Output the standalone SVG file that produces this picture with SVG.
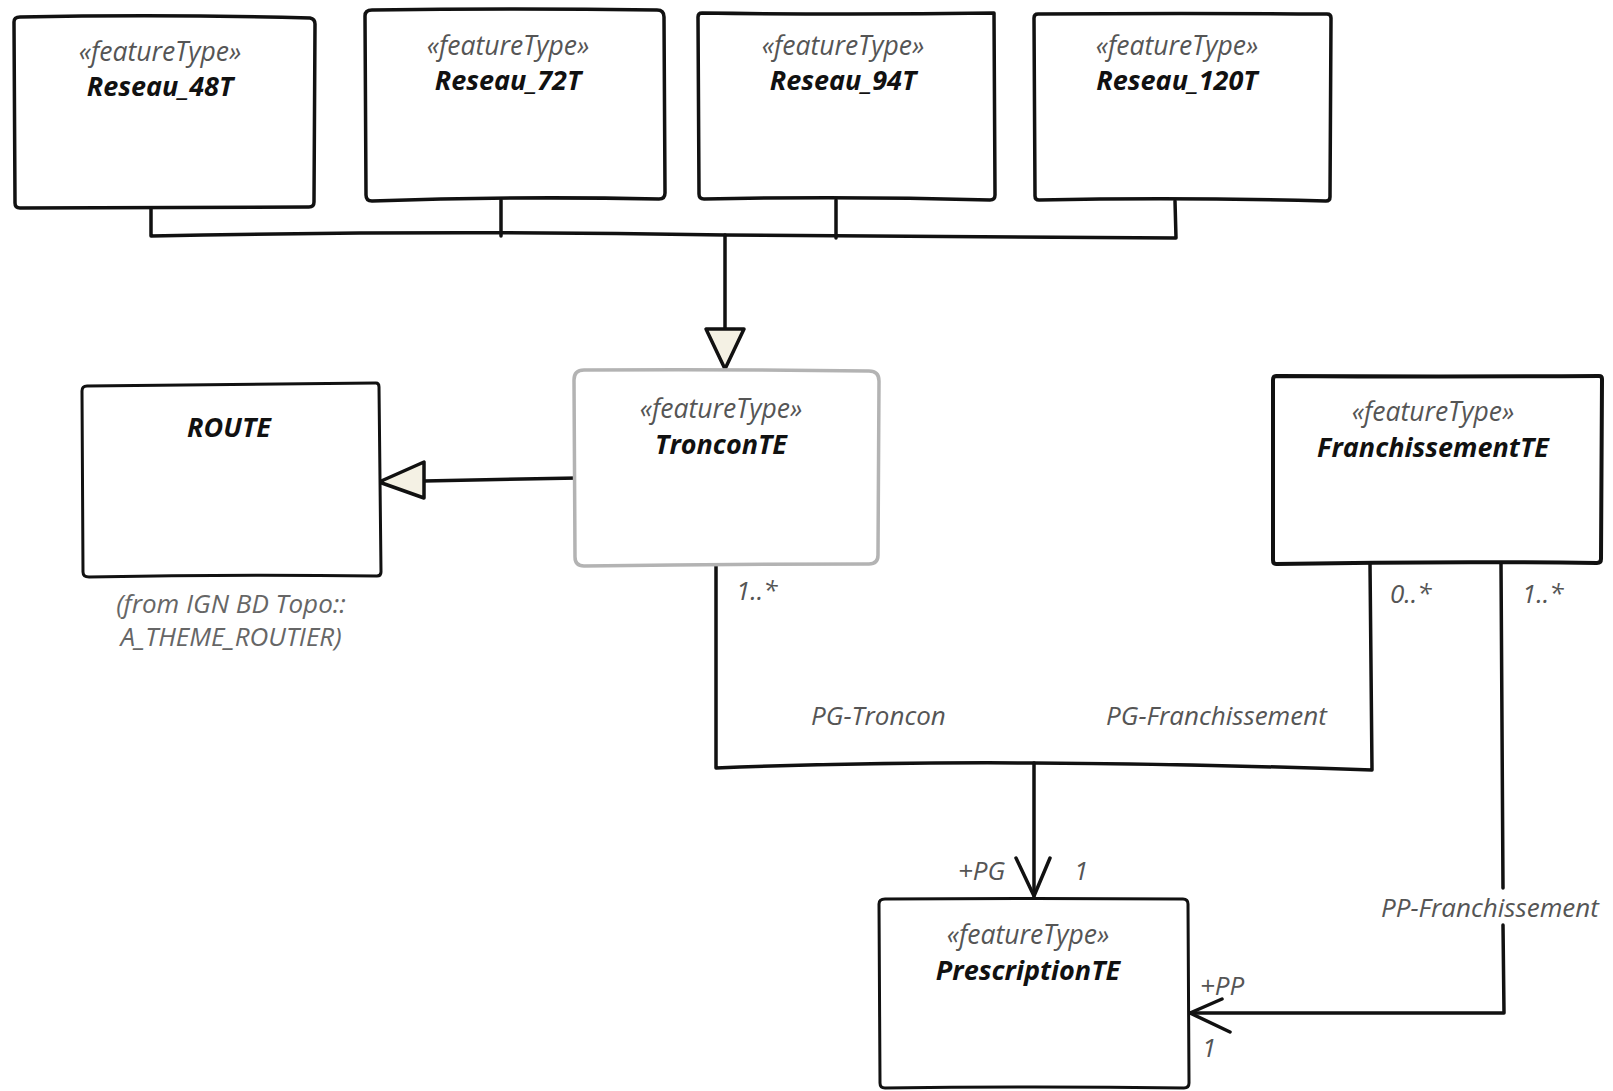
<svg xmlns="http://www.w3.org/2000/svg" width="1613" height="1091" viewBox="0 0 1613 1091">
<style>
.box{fill:#ffffff;stroke:#111;stroke-width:3.5;stroke-linejoin:round;stroke-linecap:round}
.boxg{fill:#ffffff;stroke:#b3b3b3;stroke-width:3.5;stroke-linejoin:round}
.ln{fill:none;stroke:#111;stroke-width:3.5;stroke-linejoin:round;stroke-linecap:round}
.tri{fill:#f4f1e4;stroke:#111;stroke-width:3.5;stroke-linejoin:round}
.st{font-family:'Open Sans','Noto Sans',sans-serif;font-style:italic;font-size:26.5px;fill:#555;text-anchor:middle}
.nm{font-family:'Open Sans','Noto Sans',sans-serif;font-style:italic;font-weight:bold;font-size:27px;fill:#111;text-anchor:middle}
.lb{font-family:'Open Sans','Noto Sans',sans-serif;font-style:italic;font-size:26px;fill:#555}
.nt{font-family:'Open Sans','Noto Sans',sans-serif;font-style:italic;font-size:26px;fill:#666;text-anchor:middle}
</style>
<rect width="1613" height="1091" fill="#ffffff"/>
<g id="connectors">
  <path class="ln" d="M151,208 L151,236 Q440,230 725,235 Q950,236 1176,238 L1175,201"/>
  <path class="ln" d="M501,200 L501,236"/>
  <path class="ln" d="M836,200 L836,238"/>
  <path class="ln" d="M725,235 L725,329"/>
  <path class="tri" d="M706,329 L744,329 L725,369 Z"/>
  <path class="ln" d="M578,478 L424,481"/>
  <path class="tri" d="M424,462 L424,498 L379,482 Z"/>
  <path class="ln" d="M716,566 L716,768 Q870,762 1034,763 Q1200,764 1372,770 L1370,563"/>
  <path class="ln" d="M1034,763 L1034,896"/>
  <path class="ln" d="M1016,858 L1034,896 L1050,858"/>
  <path class="ln" d="M1501,563 L1503,888"/>
  <path class="ln" d="M1503,925 L1504,1013 L1190,1013"/>
  <path class="ln" d="M1222,999 L1190,1013 L1230,1032"/>
  <text class="lb" x="736" y="600">1..*</text>
  <text class="lb" x="1390" y="603">0..*</text>
  <text class="lb" x="1522" y="603">1..*</text>
  <text class="lb" x="811" y="725">PG-Troncon</text>
  <text class="lb" x="1106" y="725">PG-Franchissement</text>
  <text class="lb" x="958" y="880">+PG</text>
  <text class="lb" x="1074" y="880">1</text>
  <text class="lb" x="1381" y="917">PP-Franchissement</text>
  <text class="lb" x="1200" y="995">+PP</text>
  <text class="lb" x="1202" y="1057">1</text>
</g>
<g id="Reseau_48T">
  <path class="box" d="M20,17 Q165,14 310,18 Q315,19 315,24 L314,202 Q314,207 309,207 L20,208 Q15,208 15,203 L14,22 Q14,17 20,17 Z"/>
  <text class="st" x="160" y="61">«featureType»</text>
  <text class="nm" x="160" y="96">Reseau_48T</text>
</g>
<g id="Reseau_72T">
  <path class="box" d="M372,10 Q515,8 657,10 Q664,10 664,17 L665,193 Q665,199 659,199 Q515,196 372,201 Q366,201 366,195 L365,16 Q365,10 372,10 Z"/>
  <text class="st" x="508" y="55">«featureType»</text>
  <text class="nm" x="508" y="90">Reseau_72T</text>
</g>
<g id="Reseau_94T">
  <path class="box" d="M702,13 Q850,15 994,13 L995,195 Q995,200 990,200 Q850,196 704,199 Q699,199 699,194 L698,17 Q698,13 702,13 Z"/>
  <text class="st" x="843" y="55">«featureType»</text>
  <text class="nm" x="843" y="90">Reseau_94T</text>
</g>
<g id="Reseau_120T">
  <path class="box" d="M1038,14 Q1180,13 1327,14 Q1331,14 1331,18 L1330,197 Q1330,201 1326,201 Q1180,197 1039,200 Q1035,200 1035,196 L1034,18 Q1034,14 1038,14 Z"/>
  <text class="st" x="1177" y="55">«featureType»</text>
  <text class="nm" x="1177" y="90">Reseau_120T</text>
</g>
<g id="TronconTE">
  <path class="boxg" d="M584,370 Q725,369 869,371 Q879,371 879,381 L878,555 Q878,564 869,564 Q725,564 584,566 Q575,566 575,557 L574,380 Q574,370 584,370 Z"/>
  <text class="st" x="721" y="418">«featureType»</text>
  <text class="nm" x="721" y="454">TronconTE</text>
</g>
<g id="ROUTE">
  <path class="box" d="M87,386 Q230,384 376,383 Q379,383 379,387 L381,572 Q381,576 377,576 Q230,574 89,577 Q83,577 83,572 L82,391 Q82,386 87,386 Z" style="stroke-width:3"/>
  <text class="nm" x="229" y="437">ROUTE</text>
  <text class="nt" x="231" y="613">(from IGN BD Topo::</text>
  <text class="nt" x="231" y="646">A_THEME_ROUTIER)</text>
</g>
<g id="FranchissementTE">
  <path class="box" d="M1276,376 Q1440,377 1599,376 Q1602,376 1602,379 L1601,559 Q1601,563 1597,563 Q1440,561 1276,564 Q1273,564 1273,560 L1273,380 Q1273,376 1276,376 Z" style="stroke-width:4"/>
  <text class="st" x="1433" y="421">«featureType»</text>
  <text class="nm" x="1433" y="457">FranchissementTE</text>
</g>
<g id="PrescriptionTE">
  <path class="box" d="M885,899 Q1035,898 1183,899 Q1188,899 1188,904 L1189,1083 Q1189,1088 1184,1088 Q1035,1086 885,1088 Q880,1088 880,1083 L879,904 Q879,899 885,899 Z" style="stroke-width:3"/>
  <text class="st" x="1028" y="944">«featureType»</text>
  <text class="nm" x="1028" y="980">PrescriptionTE</text>
</g>
</svg>
